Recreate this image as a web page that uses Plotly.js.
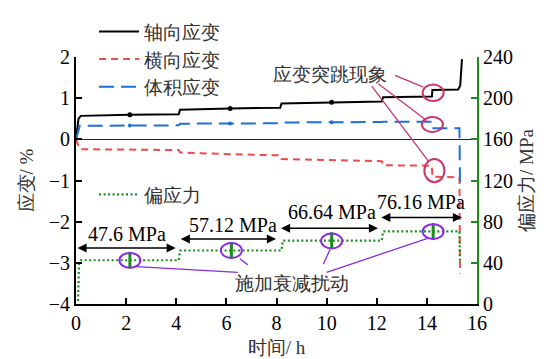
<!DOCTYPE html>
<html><head><meta charset="utf-8">
<script src="https://cdn.plot.ly/plotly-3.0.1.min.js"></script>
<style>html,body{margin:0;padding:0;background:#fff}#chart{width:544px;height:359px}</style>
</head><body><div id="chart"></div>
<script>
// ---- data ----
var timeAxial = [0, 0.1, 0.19, 2.15, 4.1, 4.15, 6.15, 8.15, 8.2, 10.2, 12.2, 12.25, 14.2, 14.22, 15.25, 15.33, 15.4];
var axialStrain = [0, 0.5, 0.57, 0.6, 0.61, 0.72, 0.75, 0.77, 0.87, 0.9, 0.92, 1.02, 1.04, 1.2, 1.21, 1.3, 1.95];
var timeLateral = [0, 0.08, 0.15, 4.1, 4.15, 6.15, 8.15, 8.2, 12.2, 12.25, 14.2, 14.22, 15.3, 15.32];
var lateralStrain = [0, -0.15, -0.24, -0.26, -0.32, -0.36, -0.39, -0.48, -0.53, -0.63, -0.64, -0.91, -0.92, -3.26];
var timeVolume = [0, 0.1, 0.15, 4.1, 4.15, 8.15, 8.2, 12.2, 12.25, 14.2, 14.22, 15.3, 15.32];
var volumeStrain = [0, 0.25, 0.33, 0.34, 0.38, 0.39, 0.41, 0.42, 0.43, 0.43, 0.27, 0.27, -1.05];
var timeStress = [0.08, 0.12, 0.2, 4.1, 4.15, 8.2, 8.25, 12.2, 12.25, 15.3, 15.32];
var devStress = [3, 40, 42.5, 42.5, 52, 52, 61.6, 61.6, 70.5, 70.5, 40];
var pertTime = [2.15, 6.2, 10.2, 14.25];
var pertStress = [42.5, 52, 61.6, 70.5];
var pertTimeStrain = [2.15, 6.15, 10.2];
var pertAxial = [0.6, 0.75, 0.9];
var pertVolume = [0.335, 0.385, 0.415];
var stageLabels = ['47.6 MPa', '57.12 MPa', '66.64 MPa', '76.16 MPa'];
var legendNames = ['轴向应变', '横向应变', '体积应变', '偏应力'];

var SERIF = 'Liberation Serif';
var BLACK = '#000000', RED = '#f04a4a', BLUE = '#1f6fd8', GREEN = '#1a8c1a';
var PINK = '#c8366a', PURPLE = '#8b2be2';

var traces = [
  {x: timeAxial, y: axialStrain, name: legendNames[0], type: 'scatter', mode: 'lines',
   line: {color: BLACK, width: 2}, legend: 'legend', legendgroup: 'a'},
  {x: timeLateral, y: lateralStrain, name: legendNames[1], type: 'scatter', mode: 'lines',
   line: {color: RED, width: 2, dash: '7px,5px'}, legend: 'legend', legendgroup: 'b'},
  {x: timeVolume, y: volumeStrain, name: legendNames[2], type: 'scatter', mode: 'lines',
   line: {color: BLUE, width: 2, dash: '15px,7px'}, legend: 'legend', legendgroup: 'c'},
  {x: timeStress, y: devStress, name: legendNames[3], type: 'scatter', mode: 'lines', yaxis: 'y2',
   line: {color: GREEN, width: 2.2, dash: '2px,2.5px'}, legend: 'legend2'},
  {x: pertTime, y: pertStress, type: 'scatter', mode: 'markers', yaxis: 'y2', showlegend: false,
   marker: {symbol: 'line-ns', size: 12, line: {color: GREEN, width: 3}}},
  {x: pertTimeStrain, y: pertAxial, type: 'scatter', mode: 'markers', showlegend: false,
   marker: {symbol: 'circle', size: 5, color: BLACK}},
  {x: pertTimeStrain, y: pertVolume, type: 'scatter', mode: 'markers', showlegend: false,
   marker: {symbol: 'circle', size: 4, color: BLUE}}
];

function ell(cx, cy, hw, hh, col) {
  return {type: 'circle', xref: 'x', yref: 'y', x0: cx - hw, x1: cx + hw, y0: cy - hh, y1: cy + hh,
          line: {color: col, width: 2}};
}
function seg(x0, y0, x1, y1, col) {
  return {type: 'line', xref: 'x', yref: 'y', x0: x0, y0: y0, x1: x1, y1: y1, line: {color: col, width: 1.3}};
}
var shapes = [
  ell(2.15, -2.94, 0.42, 0.18, PURPLE), ell(6.2, -2.70, 0.42, 0.18, PURPLE),
  ell(10.2, -2.47, 0.42, 0.18, PURPLE), ell(14.25, -2.24, 0.42, 0.18, PURPLE),
  ell(14.25, 1.13, 0.42, 0.2, PINK), ell(14.22, 0.36, 0.42, 0.18, PINK), ell(14.3, -0.76, 0.40, 0.28, PINK),
  seg(12.73, 1.555, 13.86, 1.27, PINK), seg(12.06, 1.35, 13.99, 0.46, PINK), seg(11.80, 1.29, 14.06, -0.53, PINK),
  seg(2.42, -3.09, 6.46, -3.23, PURPLE), seg(6.86, -3.05, 6.54, -2.90, PURPLE),
  seg(9.87, -3.03, 10.14, -2.67, PURPLE), seg(10.0, -3.23, 14.06, -2.40, PURPLE)
];

function dblArrow(xa, xb, y) {
  return {x: xb, y: y, ax: xa, ay: y, xref: 'x', yref: 'y', axref: 'x', ayref: 'y', text: '',
          showarrow: true, arrowside: 'end+start', arrowhead: 2, startarrowhead: 2,
          arrowsize: 1.3, startarrowsize: 1.3, arrowwidth: 1.4, arrowcolor: BLACK, standoff: 0, startstandoff: 0};
}
function label(txt, x, y) {
  return {x: x, y: y, xref: 'x', yref: 'y', text: txt, showarrow: false,
          font: {family: SERIF, size: 20, color: BLACK}, xanchor: 'center', yanchor: 'middle'};
}
var annotations = [
  dblArrow(0.0, 3.98, -2.64), dblArrow(4.12, 7.98, -2.42), dblArrow(8.12, 12.05, -2.16), dblArrow(12.12, 15.4, -1.90),
  label(stageLabels[0], 2.04, -2.31), label(stageLabels[1], 6.27, -2.07),
  label(stageLabels[2], 10.2, -1.76), label(stageLabels[3], 13.75, -1.52),
  {x: 10.14, y: 1.57, xref: 'x', yref: 'y', text: '应变突跳现象', showarrow: false,
   font: {family: SERIF, size: 19, color: '#333'}},
  {x: 8.6, y: -3.5, xref: 'x', yref: 'y', text: '施加衰减扰动', showarrow: false,
   font: {family: SERIF, size: 19, color: '#333'}}
];

var layout = {
  width: 544, height: 359,
  margin: {l: 76, r: 67, t: 52, b: 55, pad: 0},
  paper_bgcolor: '#fff', plot_bgcolor: '#fff',
  font: {family: SERIF, size: 20, color: BLACK},
  showlegend: true,
  legend: {x: 0.045, y: 1.18, xanchor: 'left', yanchor: 'top', bgcolor: 'rgba(0,0,0,0)', itemwidth: 40,
           font: {family: SERIF, size: 19, color: '#333'}, tracegroupgap: 2, traceorder: 'normal'},
  legend2: {x: 0.045, y: 0.52, xanchor: 'left', yanchor: 'top', bgcolor: 'rgba(0,0,0,0)', itemwidth: 40,
            font: {family: SERIF, size: 19, color: '#333'}},
  xaxis: {range: [0, 16], dtick: 2, tick0: 0, showgrid: false, zeroline: false,
          showline: true, linecolor: BLACK, linewidth: 2, ticks: 'inside', ticklen: 6, tickwidth: 2, tickcolor: BLACK,
          tickfont: {family: SERIF, size: 20}, title: {text: '时间/ h', font: {family: SERIF, size: 19, color: '#333'}, standoff: 8}},
  yaxis: {range: [-4, 2], dtick: 1, tick0: 0, showgrid: false, zeroline: true, zerolinecolor: '#222', zerolinewidth: 1.5,
          showline: true, linecolor: BLACK, linewidth: 2, ticks: 'inside', ticklen: 6, tickwidth: 2, tickcolor: BLACK,
          tickfont: {family: SERIF, size: 20}, title: {text: '应变/ %', font: {family: SERIF, size: 19, color: '#333'}, standoff: 10}},
  yaxis2: {range: [0, 240], dtick: 40, tick0: 0, overlaying: 'y', side: 'right', showgrid: false, zeroline: false,
           showline: true, linecolor: GREEN, linewidth: 2, ticks: 'inside', ticklen: 6, tickwidth: 2, tickcolor: GREEN,
           tickfont: {family: SERIF, size: 20, color: BLACK},
           title: {text: '偏应力/ MPa', font: {family: SERIF, size: 19, color: '#333'}, standoff: 8}},
  shapes: shapes,
  annotations: annotations
};
Plotly.newPlot('chart', traces, layout, {staticPlot: true, displayModeBar: false});
</script></body></html>
